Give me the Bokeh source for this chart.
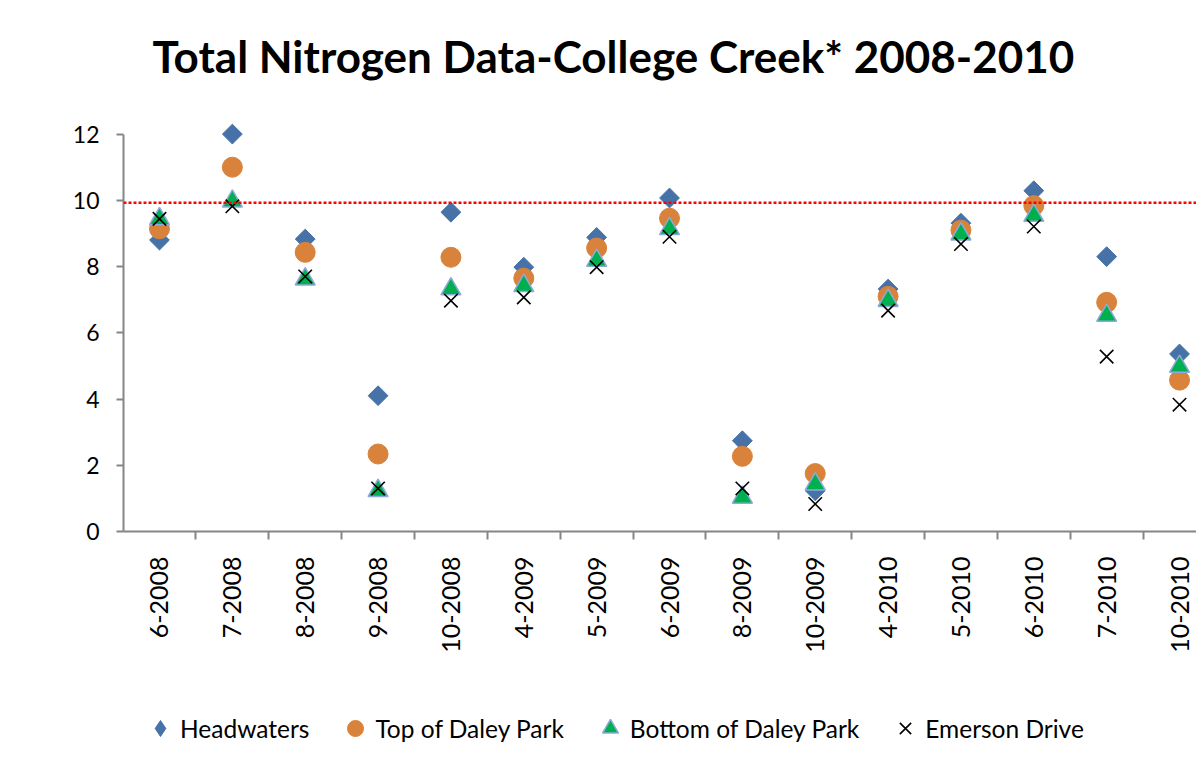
import math
from bokeh.plotting import figure
from bokeh.layouts import column
from bokeh.models import (Range1d, FixedTicker, Span, Legend, LegendItem)
from bokeh.embed import file_html
from bokeh.resources import INLINE

title_text = "Total Nitrogen Data-College Creek* 2008-2010"
dates = ["6-2008", "7-2008", "8-2008", "9-2008", "10-2008", "4-2009", "5-2009",
         "6-2009", "8-2009", "10-2009", "4-2010", "5-2010", "6-2010", "7-2010", "10-2010"]
headwaters = [8.80, 12.0, 8.83, 4.10, 9.64, 7.98, 8.88, 10.07, 2.74, 1.23, 7.32, 9.31, 10.29, 8.30, 5.36]
top_daley = [9.14, 11.0, 8.43, 2.34, 8.28, 7.65, 8.56, 9.46, 2.27, 1.75, 7.10, 9.10, 9.84, 6.92, 4.57]
bottom_daley = [9.44, 9.97, 7.62, 1.23, 7.32, 7.42, 8.18, 9.14, 1.03, 1.43, 6.97, 8.98, 9.54, 6.52, 4.98]
emerson = [9.44, 9.82, 7.70, 1.30, 6.97, 7.07, 7.98, 8.90, 1.30, 0.83, 6.67, 8.68, 9.21, 5.28, 3.83]
series_names = ["Headwaters", "Top of Daley Park", "Bottom of Daley Park", "Emerson Drive"]
limit_value = 9.93
y_ticks = [0, 2, 4, 6, 8, 10, 12]

FONT = "Lato"
xs = list(range(len(dates)))

styles = [
    dict(marker="square", size=14, angle=math.pi / 4, fill_color="#4672A8", line_color="#4672A8"),
    dict(marker="circle", size=20, fill_color="#D9823B", line_color="#D9823B"),
    dict(marker="triangle", size=20, fill_color="#00B050", line_color="#8EA9DB", line_width=1.5),
    dict(marker="x", size=19, line_color="black", line_width=1.6),
]

# title strip
t = figure(width=1196, height=120, output_backend="svg", toolbar_location=None,
           x_range=Range1d(0, 1), y_range=Range1d(0, 1),
           min_border_left=123, min_border_right=0, min_border_top=107, min_border_bottom=0,
           x_axis_location=None, y_axis_location=None)
t.outline_line_color = None
t.xgrid.visible = False
t.ygrid.visible = False
t.title.text = title_text
t.title.text_font = FONT
t.title.text_font_size = "44px"
t.title.text_font_style = "bold"
t.title.text_color = "black"
t.title.align = "left"
t.title.offset = 29
t.title.standoff = 54

# main chart
p = figure(width=1196, height=546, output_backend="svg", toolbar_location=None,
           title=None,
           x_range=Range1d(-0.494, 14.233), y_range=Range1d(0, 12.35),
           min_border_left=123, min_border_right=0, min_border_top=2,
           min_border_bottom=135)
p.outline_line_color = None
p.xgrid.visible = False
p.ygrid.visible = False
p.background_fill_color = "white"
p.border_fill_color = "white"

p.yaxis.ticker = FixedTicker(ticks=y_ticks)
p.yaxis.bounds = (0, 12)
p.yaxis.axis_line_color = "#868686"
p.yaxis.axis_line_width = 2
p.yaxis.major_tick_line_color = "#868686"
p.yaxis.major_tick_line_width = 2
p.yaxis.major_tick_out = 7
p.yaxis.major_tick_in = 0
p.yaxis.minor_tick_line_color = None
p.yaxis.major_label_text_font = FONT
p.yaxis.major_label_text_font_size = "23px"
p.yaxis.major_label_text_color = "black"
p.yaxis.major_label_standoff = 17

p.xaxis.ticker = FixedTicker(ticks=xs, minor_ticks=[i - 0.5 for i in range(len(dates) + 1)])
p.xaxis.major_label_overrides = {i: d for i, d in enumerate(dates)}
p.xaxis.major_label_orientation = math.pi / 2
p.xaxis.axis_line_color = "#868686"
p.xaxis.axis_line_width = 2
p.xaxis.major_tick_line_color = None
p.xaxis.major_tick_out = 0
p.xaxis.major_tick_in = 0
p.xaxis.minor_tick_line_color = "#868686"
p.xaxis.minor_tick_line_width = 2
p.xaxis.minor_tick_out = 8
p.xaxis.minor_tick_in = 0
p.xaxis.major_label_text_font = FONT
p.xaxis.major_label_text_font_size = "25px"
p.xaxis.major_label_text_color = "black"
p.xaxis.major_label_standoff = 17

limit = Span(location=limit_value, dimension="width", line_color="#FF0000",
             line_width=2.5, line_dash="3 2")
p.add_layout(limit)

for vals, st in zip([headwaters, top_daley, bottom_daley, emerson], styles):
    p.scatter(xs, vals, **st)

# legend strip below the chart (proxy renderers placed outside the visible range)
p2 = figure(width=1196, height=80, output_backend="svg", toolbar_location=None,
            x_range=Range1d(0, 1), y_range=Range1d(0, 1),
            min_border_left=0, min_border_right=0, min_border_top=0, min_border_bottom=0,
            x_axis_location=None, y_axis_location=None)
p2.outline_line_color = None
p2.xgrid.visible = False
p2.ygrid.visible = False
items = []
for name, st in zip(series_names, styles):
    st = dict(st)
    if st["marker"] == "square":
        st["marker"] = "diamond"
        st.pop("angle")
    r = p2.scatter(x=[-5], y=[-5], **st)
    items.append(LegendItem(label=name, renderers=[r]))
legend = Legend(items=items, orientation="horizontal", location=(17, -2))
legend.border_line_color = None
legend.background_fill_alpha = 0
legend.label_text_font = FONT
legend.label_text_font_size = "24.5px"
legend.label_text_color = "black"
legend.glyph_width = 40
legend.glyph_height = 40
legend.label_standoff = 0
legend.spacing = 26
legend.padding = 0
legend.margin = 0
p2.add_layout(legend)

layout = column(t, p, p2, spacing=0)
open("out.html", "w").write(file_html(layout, INLINE))
